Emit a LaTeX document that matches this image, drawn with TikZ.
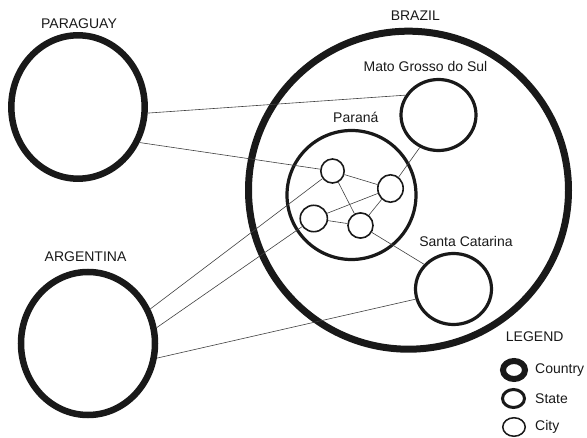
\documentclass[tikz,border=0pt]{standalone}
\usepackage{fontspec}
\setmainfont{Liberation Sans}
\usetikzlibrary{shapes.geometric}
\begin{document}
\begin{tikzpicture}[x=1pt,y=-1pt,
  font=\fontsize{14}{16}\selectfont,
  ring/.style={ellipse,draw=black!90,inner sep=0pt},
  country/.style={ring,line width=6.5pt},
  state/.style={ring,line width=3.2pt},
  city/.style={ring,line width=1.6pt},
  link/.style={draw=black!75,line width=0.6pt},
  lbl/.style={anchor=base,inner sep=0pt,text=black!90},
  lgd/.style={anchor=base west,inner sep=0pt,text=black!90}]
\useasboundingbox (0,0) rectangle (587,438);
% countries
\node[country,minimum width=133.4pt,minimum height=143.4pt] (par) at (78,107) {};
\node[country,minimum width=134pt,minimum height=143pt] (arg) at (88,343.5) {};
\node[country,line width=7pt,minimum width=320pt,minimum height=318pt] (bra) at (408.5,190.2) {};
% states
\node[state,minimum width=129pt,minimum height=129pt] (pr) at (351.5,195) {};
\node[state,minimum width=75pt,minimum height=71pt] (mgs) at (438.5,115) {};
\node[state,minimum width=76pt,minimum height=71pt] (sc) at (453.5,289) {};
% cities
\node[city,minimum width=23.4pt,minimum height=24pt] (A) at (332.5,171) {};
\node[city,minimum width=25.4pt,minimum height=27.4pt] (B) at (390.5,188.5) {};
\node[city,minimum width=27.2pt,minimum height=26.4pt] (C) at (313.8,218.5) {};
\node[city,minimum width=25pt,minimum height=25.2pt] (D) at (360.5,225.5) {};
% labels
\node[lbl] (lpar) at (79,28.3) {PARAGUAY};
\node[lbl] (larg) at (85.5,261.7) {ARGENTINA};
\node[lbl] (lbra) at (415.3,20.7) {BRAZIL};
\node[lbl] (lmgs) at (425.5,71.7) {Mato Grosso do Sul};
\node[lbl] (lpr) at (355.8,122.7) {Paraná};
\node[lbl] (lsc) at (466,246.7) {Santa Catarina};
% connectors
\draw[link] (par.-5) -- (mgs.149);
\draw[link] (par.-30) -- (A);
\draw[link] (arg.29) -- (A);
\draw[link] (arg.13.5) -- (C);
\draw[link] (arg.-12) -- (sc.195);
\draw[link] (A) -- (B);
\draw[link] (A) -- (D);
\draw[link] (C) -- (B);
\draw[link] (C) -- (D);
\draw[link] (D) -- (B);
\draw[link] (B) -- (mgs.240);
\draw[link] (D) -- (sc.140);
% legend
\node[lbl] (lleg) at (534.7,341.7) {LEGEND};
\node[ring,line width=6pt,minimum width=22pt,minimum height=18pt] (ic1) at (514,370) {};
\node[ring,line width=3pt,minimum width=22pt,minimum height=18pt] (ic2) at (513.5,398.5) {};
\node[ring,line width=1.5pt,minimum width=22.5pt,minimum height=18.5pt] (ic3) at (514,427) {};
\node[lgd] (t1) at (535,373.3) {Country};
\node[lgd] (t2) at (535,404) {State};
\node[lgd] (t3) at (535,430.7) {City};
\end{tikzpicture}
\end{document}
